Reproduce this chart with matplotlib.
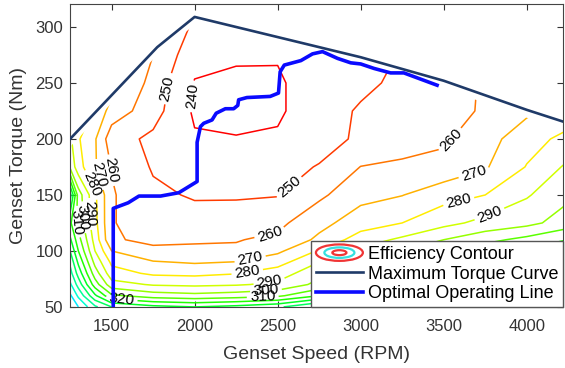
import numpy as np
import matplotlib
matplotlib.use("Agg")
import matplotlib.pyplot as plt
from matplotlib.colors import Normalize
from matplotlib.lines import Line2D
from matplotlib.patches import Ellipse, Polygon
from matplotlib.legend_handler import HandlerBase

plt.rcParams["font.family"] = ["Liberation Sans", "DejaVu Sans"]

# Efficiency map (BSFC, g/kWh), on a speed x torque grid
speed_grid = [1250, 1300, 1400, 1500, 1750, 2000, 2250, 2500, 2750, 3000, 3250, 3500, 3750, 4000, 4250]
torque_grid = [50, 60, 70, 80, 90, 100, 110, 125, 150, 175, 200, 225, 250, 275, 300, 325]
bsfc_grid = [
    [380, 370, 352, 340, 333, 330, 333, 338, 352, 368, 382, 396, 410, 425, 440],
    [372, 358, 332, 312, 305, 303, 305, 308, 320, 333, 344, 354, 364, 372, 380],
    [362, 346, 315, 294, 289, 288, 289, 292, 303, 316, 326, 335, 344, 352, 360],
    [354, 336, 305, 284, 278.3, 277.5, 279.5, 285, 297, 308, 316, 324, 332, 340, 348],
    [348, 328, 297, 278, 270.8, 269, 270.3, 276, 290, 300, 308, 316, 325, 332, 340],
    [340, 320, 290, 270, 262, 262.5, 261.5, 268, 281, 292, 300, 308, 316, 322, 330],
    [332, 314, 286, 261, 258, 258.5, 259.5, 262, 272, 285, 292, 300, 307, 313, 320],
    [322, 307, 283, 260.5, 256, 254, 254.5, 257.5, 267, 275, 280, 287, 293, 297, 305],
    [345, 305, 282, 261, 252, 249, 249, 249.5, 258, 267, 269.7, 276, 280, 289, 298],
    [298, 284, 271, 259.5, 249, 245, 245, 247, 250.5, 260.2, 262, 263, 269, 280.5, 292],
    [292, 281, 271, 254, 248, 241, 240.8, 241.2, 246.5, 251.5, 255, 258.5, 266, 276, 283],
    [300, 292, 278, 266, 254, 238.5, 235, 238.5, 246, 251, 254, 257, 261, 268, 274],
    [305, 296, 285, 275, 256, 239.5, 237, 239, 244, 248, 252, 256, 261, 266, 271],
    [296, 288, 278, 272, 260, 243, 242, 240.6, 243.5, 247, 250.5, 254, 258, 262, 266],
    [298, 290, 280, 273, 263, 248, 245, 245, 248, 252, 256, 260, 264, 268, 272],
    [300, 292, 282, 275, 266, 252, 248, 249, 252, 256, 260, 264, 268, 272, 276],
]
bsfc_levels = list(range(240, 450, 10))

# Maximum torque curve
max_speed = [1250, 1775, 2000, 2500, 3000, 3500, 4000, 4250]
max_torque = [200, 282, 309, 291, 273, 252, 226, 214]

# Optimal operating line
opt_speed = [1510, 1510, 1600, 1665, 1795, 1905, 2015, 2015, 2035, 2055, 2105, 2130,
             2185, 2235, 2260, 2265, 2315, 2455, 2505, 2515, 2540, 2640, 2710, 2770,
             2860, 2940, 3000, 3080, 3180, 3260, 3460]
opt_torque = [50, 138, 143, 149, 149, 152, 162, 197, 211, 214, 217, 223,
              227, 227, 230, 235, 237, 238, 241, 260, 266, 270, 276, 278,
              272, 268, 267, 263, 259, 259, 248]

# roughly where the contour labels sit, per level
label_spots = {
    240: [(1994, 238)],
    250: [(1840, 245), (2600, 155)],
    260: [(1490, 172), (2450, 116), (3560, 198)],
    270: [(1412, 168), (2330, 94), (3690, 168)],
    280: [(1340, 158), (2320, 80), (3600, 142)],
    290: [(1375, 133), (2450, 72), (3780, 132)],
    300: [(1328, 130), (2430, 64)],
    310: [(1290, 126), (2410, 59)],
    320: [(1560, 56)],
}


class RingsHandler(HandlerBase):
    # legend icon: nested ellipses like a contour map
    def create_artists(self, legend, orig_handle, xdescent, ydescent,
                       width, height, fontsize, trans):
        cx = width / 2 - xdescent
        cy = height / 2 - ydescent
        rings = []
        for k, col in ((1.0, "#f03535"), (0.64, "#35e0e0"), (0.3, "#f03535")):
            rings.append(Ellipse((cx, cy), width * k, height * 1.3 * k,
                                 fill=False, edgecolor=col, linewidth=1.6,
                                 transform=trans))
        return rings


def snap_to_line(path, x, y, sx=2970.0, sy=270.0):
    # closest point on a contour path (in axis-scaled units)
    best, best_d = (x, y), np.inf
    for poly in path.to_polygons(closed_only=False):
        p = poly / [sx, sy]
        q = np.array([x / sx, y / sy])
        for a, b in zip(p[:-1], p[1:]):
            ab = b - a
            n2 = ab @ ab
            t = 0.0 if n2 == 0 else np.clip((q - a) @ ab / n2, 0, 1)
            c = a + t * ab
            d = (c - q) @ (c - q)
            if d < best_d:
                best_d, best = d, (c[0] * sx, c[1] * sy)
    return best


fig = plt.figure(figsize=(5.65, 3.68), dpi=100)
ax = fig.add_axes([0.124, 0.166, 0.873, 0.823])

cs = ax.contour(speed_grid, torque_grid, np.array(bsfc_grid), levels=bsfc_levels,
                cmap="hsv", norm=Normalize(240, 490), linewidths=1.1)
paths = cs.get_paths()
spots = []
for lev, pts in label_spots.items():
    for x, y in pts:
        spots.append(snap_to_line(paths[bsfc_levels.index(lev)], x, y))
ax.clabel(cs, manual=spots, fmt="%d", fontsize=11, colors="k",
          inline=True, inline_spacing=3)

# keep the map a little below the maximum torque curve
clip_torque = [t - 7 for t in max_torque]
clip = Polygon(np.column_stack([max_speed + [4250, 1250], clip_torque + [0, 0]]),
               closed=True, transform=ax.transData)
cs.set_clip_path(clip)

h_max, = ax.plot(max_speed, max_torque, color="#1f3a68", lw=1.9, zorder=3)
h_opt, = ax.plot(opt_speed, opt_torque, color="#0a0aff", lw=2.6, zorder=4)

ax.set_xlim(1250, 4220)
ax.set_ylim(50, 320.5)
ax.set_xticks([1500, 2000, 2500, 3000, 3500, 4000])
ax.set_yticks([50, 100, 150, 200, 250, 300])
ax.tick_params(direction="in", top=True, right=True, length=4, width=0.8,
               labelsize=12, colors="#333333")
ax.tick_params(axis="x", pad=8.5)
ax.tick_params(axis="y", pad=5)
for s in ax.spines.values():
    s.set_color("#444444")
    s.set_linewidth(0.8)
ax.set_xlabel("Genset Speed (RPM)", fontsize=14, color="#333333", labelpad=9)
ax.set_ylabel("Genset Torque (Nm)", fontsize=14, color="#333333", labelpad=6)

rings = Line2D([], [])
ax.legend([rings, h_max, h_opt],
          ["Efficiency Contour", "Maximum Torque Curve", "Optimal Operating Line"],
          handler_map={rings: RingsHandler()}, loc="lower right",
          borderaxespad=0, fontsize=13, handlelength=2.6, handletextpad=0.3,
          labelspacing=0.15, borderpad=0.25, fancybox=False,
          edgecolor="#555555", framealpha=1)

fig.savefig("out.png", dpi=100)
